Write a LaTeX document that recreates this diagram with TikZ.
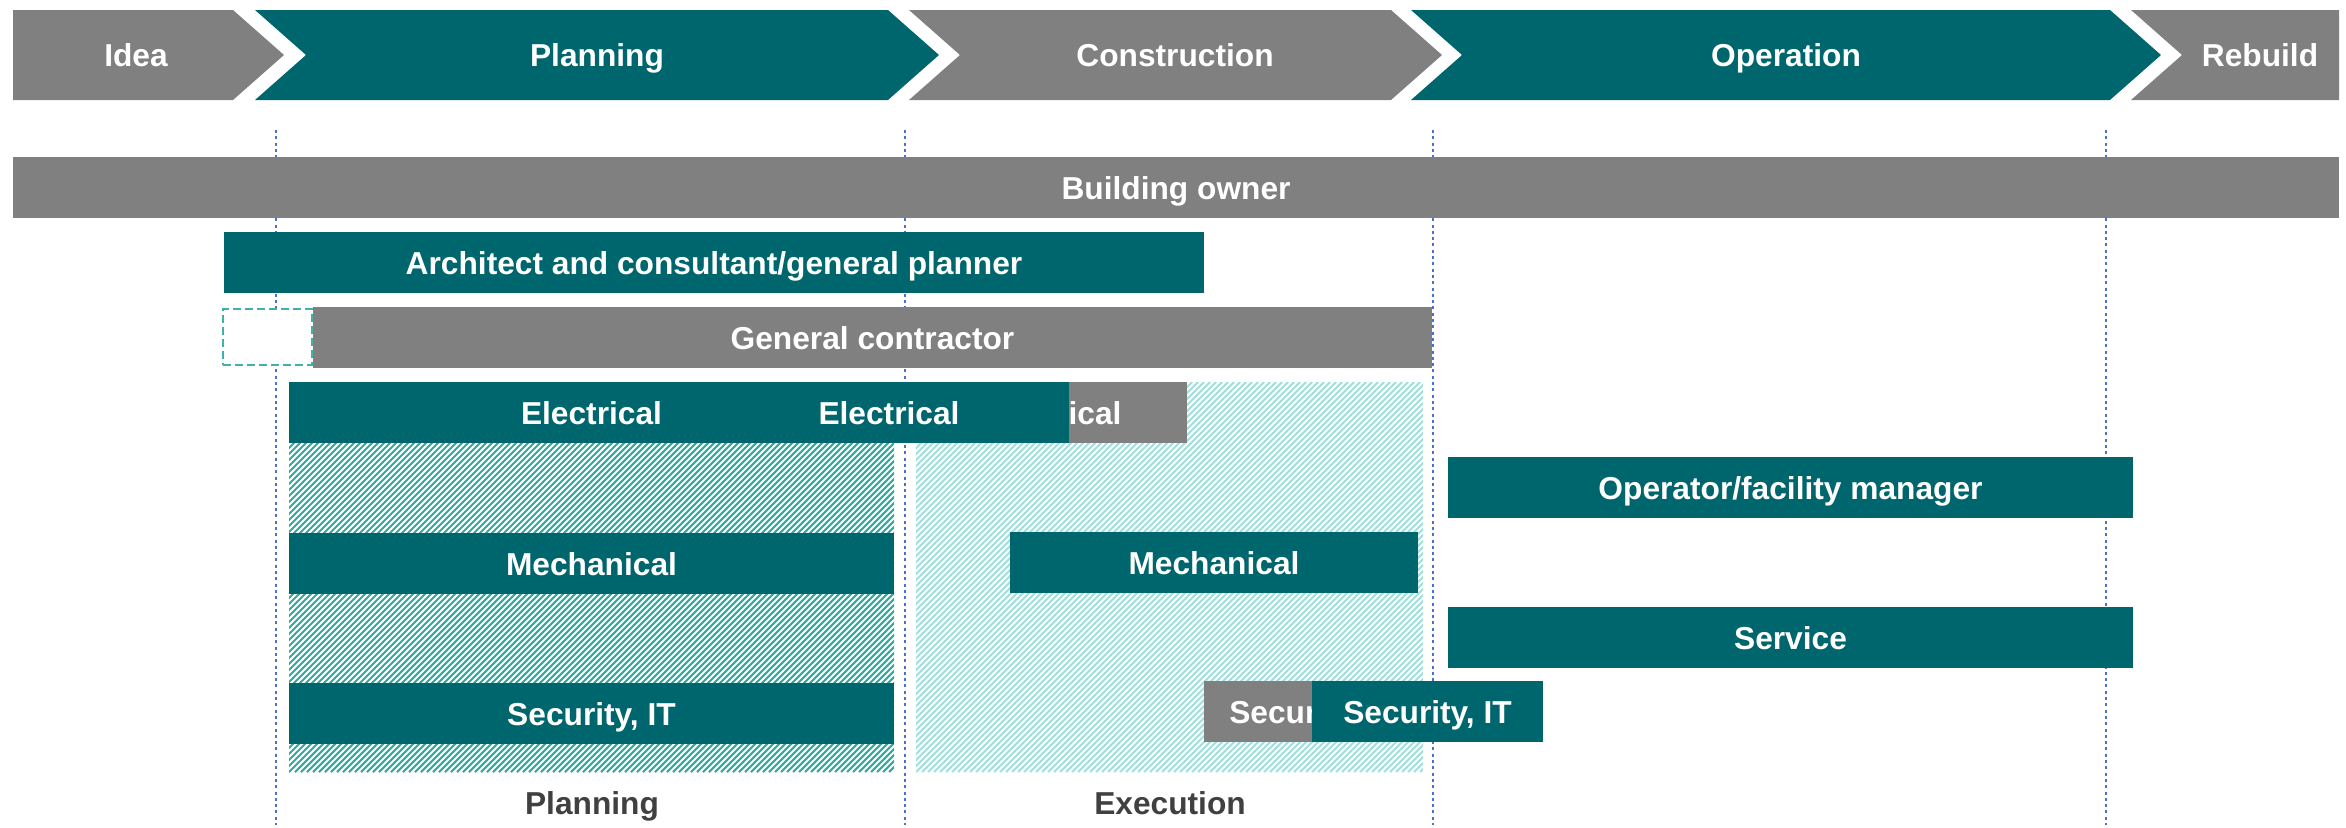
\documentclass[tikz,border=0pt]{standalone}
\usepackage{fontspec}
\setmainfont{Liberation Sans}
\definecolor{tealc}{HTML}{00666E}
\definecolor{grayc}{HTML}{808080}
\definecolor{hatchdark}{HTML}{36A89D}
\definecolor{hatchlight}{HTML}{A6DFDB}
\definecolor{dashc}{HTML}{3FB0AA}
\definecolor{dotc}{HTML}{4A72CC}
\definecolor{labelc}{HTML}{404040}
\newcommand\ganttbar[7]{%
  \node[#2, minimum width={(#5-#3)*1bp}, minimum height={(#6-#4)*1bp}] (#1) at ({(#3+#5)/2},{(#4+#6)/2}) {#7};}
\begin{document}
\begin{tikzpicture}[x=1bp,y=-1bp,
  txt/.style={inner sep=0pt, outer sep=0pt, font=\bfseries\fontsize{31.7bp}{38bp}\selectfont, text height=23.8bp, text depth=0pt},
  bar/.style={txt, rectangle, text=white},
  tealbar/.style={bar, fill=tealc},
  graybar/.style={bar, fill=grayc},
  chevtext/.style={txt, text=white},
  bottomlabel/.style={txt, text=labelc},
  guide/.style={dotc, line width=2.8bp, dash pattern=on 3bp off 3.3bp},
  hatchline/.style={line width=2.1bp}
]
\useasboundingbox (0,0) rectangle (2346,827);

% phase chevrons
\fill[grayc] (13,10) -- (233,10) -- (284,55) -- (233,100) -- (13,100) -- cycle;
\fill[tealc] (255,10) -- (888,10) -- (939,55) -- (888,100) -- (255,100) -- (306,55) -- cycle;
\fill[grayc] (909,10) -- (1391,10) -- (1442,55) -- (1391,100) -- (909,100) -- (960,55) -- cycle;
\fill[tealc] (1411,10) -- (2110,10) -- (2161,55) -- (2110,100) -- (1411,100) -- (1462,55) -- cycle;
\fill[grayc] (2131,10) -- (2339,10) -- (2339,100) -- (2131,100) -- (2182,55) -- cycle;
\node[chevtext] (pIdea) at (136,55) {Idea};
\node[chevtext] (pPlan) at (597,55) {Planning};
\node[chevtext] (pCons) at (1175,55) {Construction};
\node[chevtext] (pOper) at (1786,55) {Operation};
\node[chevtext] (pRebu) at (2260,55) {Rebuild};

% hatched areas
\begin{scope}
\clip (289,382) rectangle (894,772);
\foreach \i in {0,6,...,1000} \draw[hatchline, hatchdark] ({289-390+\i},772) -- ({289+\i},382);
\end{scope}
\begin{scope}
\clip (916,382) rectangle (1423,772);
\foreach \i in {0,6,...,900} \draw[hatchline, hatchlight] ({916-390+\i},772) -- ({916+\i},382);
\end{scope}

% guide lines
\coordinate (g1t) at (276,130); \coordinate (g1b) at (276,825);
\coordinate (g2t) at (905,130); \coordinate (g2b) at (905,825);
\coordinate (g3t) at (1433,130); \coordinate (g3b) at (1433,825);
\coordinate (g4t) at (2106,130); \coordinate (g4b) at (2106,825);
\draw[guide] (g1t) -- (g1b);
\draw[guide] (g2t) -- (g2b);
\draw[guide] (g3t) -- (g3b);
\draw[guide] (g4t) -- (g4b);

% bars
\ganttbar{owner}{graybar}{13}{157}{2339}{218}{Building owner}
\ganttbar{arch}{tealbar}{224}{232}{1204}{293}{Architect and consultant/general planner}
\node[draw=dashc, fill=white, line width=2.5bp, dash pattern=on 8bp off 4bp, minimum width=89bp, minimum height=56bp, inner sep=0pt] (gcbox) at (267.5,337) {};
\ganttbar{gc}{graybar}{313}{307}{1432}{368}{General contractor}
\ganttbar{elplan}{tealbar}{289}{382}{894}{443}{Electrical}
\ganttbar{elexec}{graybar}{915}{382}{1187}{443}{Electrical}
\ganttbar{elmid}{tealbar}{709}{382}{1069}{443}{Electrical}
\ganttbar{oper}{tealbar}{1448}{457}{2133}{518}{Operator/facility manager}
\ganttbar{meplan}{tealbar}{289}{533}{894}{594}{Mechanical}
\ganttbar{meexec}{tealbar}{1010}{532}{1418}{593}{Mechanical}
\ganttbar{serv}{tealbar}{1448}{607}{2133}{668}{Service}
\ganttbar{seplan}{tealbar}{289}{683}{894}{744}{Security, IT}
\ganttbar{seexecg}{graybar}{1204}{681}{1423}{742}{Security, IT}
\ganttbar{seexec}{tealbar}{1312}{681}{1543}{742}{Security, IT}

% bottom labels
\node[bottomlabel] (lplan) at (592,803) {Planning};
\node[bottomlabel] (lexec) at (1170,803) {Execution};
\end{tikzpicture}
\end{document}
